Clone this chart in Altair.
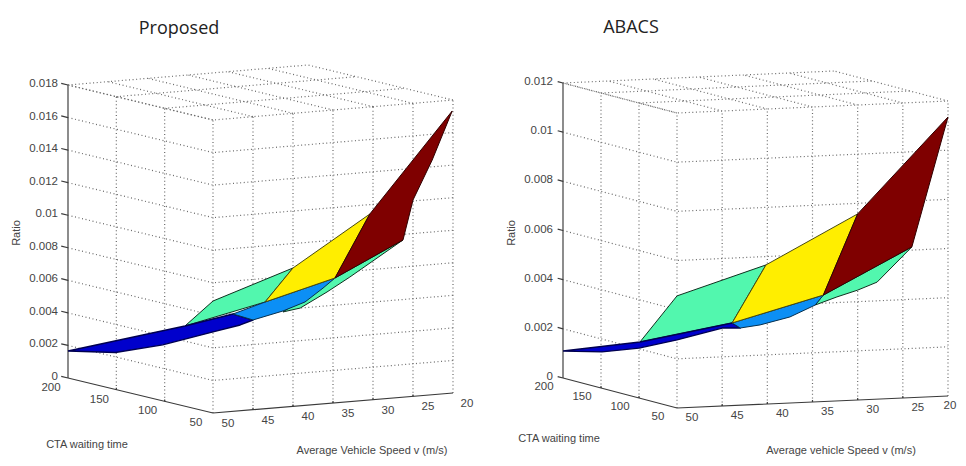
import altair as alt
import pandas as pd

# axis ticks
wait_ticks = [200, 150, 100, 50]
speed_ticks = [50, 45, 40, 35, 30, 25, 20]
left_ratio_ticks = [0, 0.002, 0.004, 0.006, 0.008, 0.01, 0.012, 0.014, 0.016, 0.018]
right_ratio_ticks = [0, 0.002, 0.004, 0.006, 0.008, 0.01, 0.012]

# left panel surface faces (speed, waiting time, ratio)
l_teal_s = [50, 50, 40, 43.5]
l_teal_w = [79, 50, 50, 50]
l_teal_r = [.00493, .00688, .0085, .00655]
l_teal2_s = [34.75, 26.25, 32.9, 35.75, 39.1, 41.25]
l_teal2_w = [50, 50, 50, 50, 50, 50]
l_teal2_r = [.00767, .00966, .00765, .00685, .006, .00585]
l_blue_s = [50, 50, 47.5, 45, 46.6, 50, 50, 50]
l_blue_w = [200, 79, 50, 50, 50, 50, 102, 151]
l_blue_r = [.00166, .00493, .00598, .00551, .00527, .00498, .00344, .00227]
l_sky_s = [47.5, 43.5, 34.75, 36.25, 38.5, 41.25, 45]
l_sky_w = [50, 50, 50, 50, 50, 50, 50]
l_sky_r = [.00598, .00655, .00767, .00711, .00635, .00591, .00551]
l_yellow_s = [40, 30.4, 34.75, 43.5]
l_yellow_w = [50, 50, 50, 50]
l_yellow_r = [.0085, .01142, .00767, .00655]
l_red_s = [30.4, 20.1, 22.6, 25, 26.25, 34.75]
l_red_w = [50, 50, 50, 50, 50, 50]
l_red_r = [.01142, .01733, .01442, .01206, .00966, .00767]

# right panel surface faces
r_teal_s = [50, 50, 40.15, 43.9]
r_teal_w = [98.7, 50, 50, 50]
r_teal_r = [.00229, .00456, .00566, .00336]
r_teal2_s = [33.8, 24, 27.85, 30, 32.3, 34.7]
r_teal2_w = [50, 50, 50, 50, 50, 50]
r_teal2_r = [.00433, .00613, .00476, .00447, .00423, .00394]
r_blue_s = [50, 50, 43.9, 43, 45, 50, 50, 50]
r_blue_w = [200, 98.7, 50, 50, 50, 50, 100, 148.7]
r_blue_r = [.0011, .00229, .00336, .00314, .00317, .00277, .00203, .00148]
r_sky_s = [43.9, 33.8, 34.7, 37.5, 40.8, 43]
r_sky_w = [50, 50, 50, 50, 50, 50]
r_sky_r = [.00336, .00433, .00394, .0035, .00323, .00314]
r_yellow_s = [40.15, 30, 33.8, 43.9]
r_yellow_w = [50, 50, 50, 50]
r_yellow_r = [.00566, .00757, .00433, .00336]
r_red_s = [30, 20, 24, 33.8]
r_red_w = [50, 50, 50, 50]
r_red_r = [.00757, .01135, .00613, .00433]

TEAL, BLUE, SKY, YELLOW, RED = "#52F7AE", "#0000CC", "#0C8FF5", "#FFEE00", "#7F0000"


class View:
    """Orthographic view of the 3-D box, from its three visible corners."""

    def __init__(self, left, front, right, top, zmax):
        self.o = left
        self.wx = (front[0] - left[0]) / 150
        self.wy = (front[1] - left[1]) / 150
        self.sx = (right[0] - front[0]) / 30
        self.sy = (right[1] - front[1]) / 30
        self.zs = (left[1] - top) / zmax
        self.zmax = zmax

    def __call__(self, speed, wait, ratio):
        dw, ds = 200 - wait, 50 - speed
        return (self.o[0] + dw * self.wx + ds * self.sx,
                self.o[1] + dw * self.wy + ds * self.sy - ratio * self.zs)


VL = View((68, 378), (213, 413), (453, 393), 85, 0.018)
VR = View((563, 378), (677, 408), (948, 396), 83, 0.012)

X = alt.X("x:Q", scale=alt.Scale(domain=[8, 958], nice=False, zero=False), axis=None)
Y = alt.Y("y:Q", scale=alt.Scale(domain=[458, 8], nice=False, zero=False), axis=None)


def path_df(paths):
    rows = []
    for g, pts in enumerate(paths):
        for i, (x, y) in enumerate(pts):
            rows.append({"g": g, "i": i, "x": x, "y": y})
    return pd.DataFrame(rows)


def lines(paths, **mark):
    return alt.Chart(path_df(paths)).mark_line(interpolate="linear", **mark).encode(
        x=X, y=Y, detail="g:N", order="i:Q")


def face(view, s, w, r, color, edge="#10301F", width=1):
    pts = [view(a, b, c) for a, b, c in zip(s, w, r)]
    pts.append(pts[0])
    return lines([pts], fill=color, stroke=edge, strokeWidth=width, strokeJoin="round")


def text(rows, **mark):
    base = dict(font="Liberation Sans", fontSize=11.5, color="#444444", baseline="middle")
    base.update(mark)
    return alt.Chart(pd.DataFrame(rows)).mark_text(**base).encode(x=X, y=Y, text="t:N")


def fmt(v):
    return "0" if v == 0 else f"{v:g}"


def frame(view, ratios, wdx, wdy, sdx, sdy, last_dx):
    zmax = view.zmax
    dotted = []
    for z in ratios[1:]:
        dotted.append([view(50, 200, z), view(50, 50, z), view(20, 50, z)])
    for w in wait_ticks[1:]:
        dotted.append([view(50, w, 0), view(50, w, zmax)])
    for s in speed_ticks[1:]:
        dotted.append([view(s, 50, 0), view(s, 50, zmax)])
    for w in wait_ticks[:-1]:
        dotted.append([view(50, w, zmax), view(20, w, zmax)])
    for s in speed_ticks:
        dotted.append([view(s, 50, zmax), view(s, 200, zmax)])
    out = [lines(dotted, stroke="#6a6a6a", strokeWidth=1.2, strokeDash=[1, 2.6])]
    out.append(lines([[view(50, 200, 0), view(50, 200, zmax)]], stroke="#707070", strokeWidth=1.6))
    out.append(lines([[view(50, 200, 0), view(50, 50, 0), view(20, 50, 0)]], stroke="#3a3a3a", strokeWidth=1.2))
    ticks = [[view(50, 207, z), view(50, 200, z)] for z in ratios]
    ticks += [[view(50, w, 0), view(50, w, 0.00012 * zmax / 0.018)] for w in wait_ticks[1:3]]
    ticks += [[view(s, 50, 0), view(s, 50, 0.00012 * zmax / 0.018)] for s in speed_ticks[1:-1]]
    out.append(lines(ticks, stroke="#3a3a3a", strokeWidth=1.2))
    rows = []
    for z in ratios:
        x, y = view(50, 200, z)
        rows.append({"x": x - 10, "y": y - 1, "t": fmt(z)})
    out.append(text(rows, align="right"))
    rows = []
    for w in wait_ticks:
        x, y = view(50, w, 0)
        rows.append({"x": x + wdx, "y": y + wdy, "t": str(w)})
    for s in speed_ticks:
        x, y = view(s, 50, 0)
        rows.append({"x": x + (last_dx if s == 20 else sdx), "y": y + sdy, "t": str(s)})
    out.append(text(rows, align="center"))
    return out


layers = []
layers += frame(VL, left_ratio_ticks, -17, 10, 15, 11, 14)
layers += [
    face(VL, l_teal_s, l_teal_w, l_teal_r, TEAL),
    face(VL, l_teal2_s, l_teal2_w, l_teal2_r, TEAL),
    face(VL, l_blue_s, l_blue_w, l_blue_r, BLUE, "#000050", 1.4),
    face(VL, l_sky_s, l_sky_w, l_sky_r, SKY, "#06304f"),
    face(VL, l_yellow_s, l_yellow_w, l_yellow_r, YELLOW, "#4a4a10"),
    face(VL, l_red_s, l_red_w, l_red_r, RED, "#300000"),
]
layers += frame(VR, right_ratio_ticks, -19, 9, 15, 10, 2)
layers += [
    face(VR, r_teal_s, r_teal_w, r_teal_r, TEAL),
    face(VR, r_teal2_s, r_teal2_w, r_teal2_r, TEAL),
    face(VR, r_blue_s, r_blue_w, r_blue_r, BLUE, "#000050", 1.4),
    face(VR, r_sky_s, r_sky_w, r_sky_r, SKY, "#06304f"),
    face(VR, r_yellow_s, r_yellow_w, r_yellow_r, YELLOW, "#4a4a10"),
    face(VR, r_red_s, r_red_w, r_red_r, RED, "#300000"),
]
layers += [
    text([{"x": 179, "y": 29, "t": "Proposed"}, {"x": 631, "y": 28, "t": "ABACS"}],
         font="Open Sans", fontSize=18, color="#222222", align="center"),
    text([{"x": 87, "y": 445, "t": "CTA waiting time"}, {"x": 559, "y": 439, "t": "CTA waiting time"}],
         fontSize=11, align="center"),
    text([{"x": 372, "y": 451, "t": "Average Vehicle Speed v (m/s)"},
          {"x": 841, "y": 451, "t": "Average vehicle Speed v (m/s)"}],
         fontSize=11, align="center"),
    text([{"x": 17, "y": 233, "t": "Ratio"}, {"x": 512, "y": 233, "t": "Ratio"}],
         fontSize=11, angle=270, align="center"),
]

chart = alt.layer(*layers).properties(
    width=950, height=450, padding=0, autosize=alt.AutoSizeParams(type="none"),
    background="white",
).configure_view(stroke=None)

chart.save("out.html", embed_options={"renderer": "svg", "actions": False})
